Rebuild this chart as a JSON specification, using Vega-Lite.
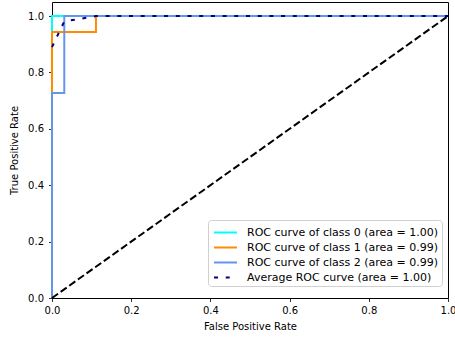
{
  "$schema": "https://vega.github.io/schema/vega-lite/v6.json",
  "width": 396,
  "height": 296,
  "autosize": {"type": "none"},
  "padding": {"left": 52, "top": 2, "right": 7, "bottom": 39},
  "background": "white",
  "config": {
    "font": "DejaVu Sans",
    "view": {"stroke": "black", "strokeWidth": 1},
    "axis": {
      "grid": false,
      "domain": false,
      "tickColor": "black",
      "tickSize": 3.5,
      "tickWidth": 0.8,
      "labelColor": "black",
      "labelFontSize": 10,
      "labelFont": "DejaVu Sans",
      "titleFont": "DejaVu Sans",
      "titleFontSize": 10,
      "titleFontWeight": "normal",
      "titleColor": "black",
      "labelPadding": 4,
      "labelFlush": false,
      "labelOverlap": false,
      "labelBound": false
    },
    "legend": {
      "orient": "none",
      "legendX": 156,
      "legendY": 218,
      "fillColor": "white",
      "strokeColor": "#d0d0d0",
      "cornerRadius": 3,
      "padding": 3,
      "labelFontSize": 11,
      "labelFont": "DejaVu Sans",
      "labelColor": "black",
      "labelLimit": 400,
      "symbolType": "M-1.35,0H1.35",
      "symbolSize": 289,
      "symbolOffset": 5,
      "rowPadding": 0,
      "labelOffset": 12
    }
  },
  "datasets": {
    "roc": [
      {"series": "ROC curve of class 0 (area = 1.00)", "i": 0, "fpr": 0, "tpr": 0},
      {"series": "ROC curve of class 0 (area = 1.00)", "i": 1, "fpr": 0, "tpr": 1},
      {"series": "ROC curve of class 0 (area = 1.00)", "i": 2, "fpr": 1, "tpr": 1},
      {"series": "ROC curve of class 1 (area = 0.99)", "i": 0, "fpr": 0, "tpr": 0},
      {"series": "ROC curve of class 1 (area = 0.99)", "i": 1, "fpr": 0, "tpr": 0.944},
      {"series": "ROC curve of class 1 (area = 0.99)", "i": 2, "fpr": 0.111, "tpr": 0.944},
      {"series": "ROC curve of class 1 (area = 0.99)", "i": 3, "fpr": 0.111, "tpr": 1},
      {"series": "ROC curve of class 1 (area = 0.99)", "i": 4, "fpr": 1, "tpr": 1},
      {"series": "ROC curve of class 2 (area = 0.99)", "i": 0, "fpr": 0, "tpr": 0},
      {"series": "ROC curve of class 2 (area = 0.99)", "i": 1, "fpr": 0, "tpr": 0.727},
      {"series": "ROC curve of class 2 (area = 0.99)", "i": 2, "fpr": 0.031, "tpr": 0.727},
      {"series": "ROC curve of class 2 (area = 0.99)", "i": 3, "fpr": 0.031, "tpr": 1},
      {"series": "ROC curve of class 2 (area = 0.99)", "i": 4, "fpr": 1, "tpr": 1},
      {"series": "Average ROC curve (area = 1.00)", "i": 0, "fpr": 0, "tpr": 0.89},
      {"series": "Average ROC curve (area = 1.00)", "i": 1, "fpr": 0.031, "tpr": 0.981},
      {"series": "Average ROC curve (area = 1.00)", "i": 2, "fpr": 0.111, "tpr": 1},
      {"series": "Average ROC curve (area = 1.00)", "i": 3, "fpr": 1, "tpr": 1}
    ],
    "diag": [
      {"fpr": 0, "tpr": 0},
      {"fpr": 1, "tpr": 1}
    ]
  },
  "encoding": {
    "x": {
      "field": "fpr", "type": "quantitative",
      "scale": {"domain": [0, 1], "nice": false, "zero": false},
      "axis": {"title": "False Positive Rate", "values": [0, 0.2, 0.4, 0.6, 0.8, 1.0], "format": ".1f", "titlePadding": 6}
    },
    "y": {
      "field": "tpr", "type": "quantitative",
      "scale": {"domain": [0, 1.05], "nice": false, "zero": false},
      "axis": {"title": "True Positive Rate", "values": [0, 0.2, 0.4, 0.6, 0.8, 1.0], "format": ".1f", "labelPadding": 5, "titlePadding": 8}
    }
  },
  "layer": [
    {
      "data": {"name": "roc"},
      "transform": [{"filter": "datum.series === 'ROC curve of class 0 (area = 1.00)'"}],
      "mark": {"type": "line", "strokeCap": "butt"},
      "encoding": {
        "order": {"field": "i", "type": "quantitative"},
        "color": {"field": "series", "type": "nominal",
          "scale": {"domain": ["ROC curve of class 0 (area = 1.00)", "ROC curve of class 1 (area = 0.99)", "ROC curve of class 2 (area = 0.99)", "Average ROC curve (area = 1.00)"],
                    "range": ["#00ffff", "#ff8c00", "#6495ed", "#000080"]},
          "legend": {"title": null}},
        "strokeDash": {"field": "series", "type": "nominal",
          "scale": {"domain": ["ROC curve of class 0 (area = 1.00)", "ROC curve of class 1 (area = 0.99)", "ROC curve of class 2 (area = 0.99)", "Average ROC curve (area = 1.00)"],
                    "range": [[1, 0], [1, 0], [1, 0], [4, 7.7]]},
          "legend": {"title": null}},
        "strokeWidth": {"field": "series", "type": "nominal",
          "scale": {"domain": ["ROC curve of class 0 (area = 1.00)", "ROC curve of class 1 (area = 0.99)", "ROC curve of class 2 (area = 0.99)", "Average ROC curve (area = 1.00)"],
                    "range": [2, 2, 2, 4]},
          "legend": {"title": null}}
      }
    },
    {
      "data": {"name": "roc"},
      "transform": [{"filter": "datum.series === 'ROC curve of class 1 (area = 0.99)'"}],
      "mark": {"type": "line", "strokeCap": "butt"},
      "encoding": {
        "order": {"field": "i", "type": "quantitative"},
        "color": {"field": "series", "type": "nominal"},
        "strokeDash": {"field": "series", "type": "nominal"},
        "strokeWidth": {"field": "series", "type": "nominal"}
      }
    },
    {
      "data": {"name": "roc"},
      "transform": [{"filter": "datum.series === 'ROC curve of class 2 (area = 0.99)'"}],
      "mark": {"type": "line", "strokeCap": "butt"},
      "encoding": {
        "order": {"field": "i", "type": "quantitative"},
        "color": {"field": "series", "type": "nominal"},
        "strokeDash": {"field": "series", "type": "nominal"},
        "strokeWidth": {"field": "series", "type": "nominal"}
      }
    },
    {
      "data": {"name": "roc"},
      "transform": [{"filter": "datum.series === 'Average ROC curve (area = 1.00)'"}],
      "mark": {"type": "line", "strokeCap": "butt"},
      "encoding": {
        "order": {"field": "i", "type": "quantitative"},
        "color": {"field": "series", "type": "nominal"},
        "strokeDash": {"field": "series", "type": "nominal"},
        "strokeWidth": {"field": "series", "type": "nominal"}
      }
    },
    {
      "data": {"name": "diag"},
      "mark": {"type": "line", "color": "black", "strokeWidth": 2, "strokeDash": [7.4, 3.2], "strokeCap": "butt"},
      "encoding": {}
    }
  ]
}
